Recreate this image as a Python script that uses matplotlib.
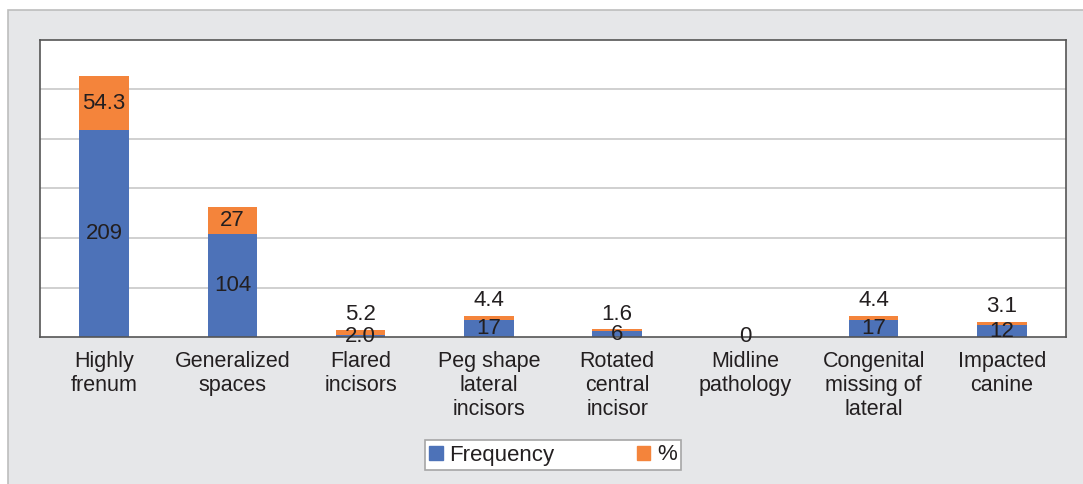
import matplotlib.pyplot as plt
from matplotlib.patches import Rectangle, Patch

plt.rcParams['font.family'] = ['Liberation Sans', 'DejaVu Sans']

categories = ['Highly\nfrenum', 'Generalized\nspaces', 'Flared\nincisors',
              'Peg shape\nlateral\nincisors', 'Rotated\ncentral\nincisor',
              'Midline\npathology', 'Congenital\nmissing of\nlateral',
              'Impacted\ncanine']
frequency = [209, 104, 2.0, 17, 6, 0, 17, 12]
percent = [54.3, 27, 5.2, 4.4, 1.6, 0, 4.4, 3.1]

blue = '#4d72b8'
orange = '#f4843b'
text_col = '#231f20'

fig = plt.figure(figsize=(10.83, 4.84), dpi=100)
fig.patch.set_facecolor('white')

# grey panel behind the chart
fig.patches.append(Rectangle((8 / 1083, -0.1), 1.2, 1 - 10 / 484 + 0.1,
                             transform=fig.transFigure, facecolor='#e6e7e9',
                             edgecolor='#bdbdbd', linewidth=1.2, zorder=-10))

ax = fig.add_axes([40 / 1083, 1 - 337 / 484, (1066 - 40) / 1083, 297 / 484])
ax.set_facecolor('white')

x = range(len(categories))
width = 0.385
ax.bar(x, frequency, width, color=blue, zorder=2)
ax.bar(x, percent, width, bottom=frequency, color=orange, zorder=2)

ax.set_xlim(-0.5, len(categories) - 0.5)
ax.set_ylim(0, 300)
ax.set_yticks(range(50, 300, 50))
ax.set_yticklabels([])
ax.tick_params(axis='y', length=0)
ax.grid(axis='y', color='#c8c8c8', linewidth=1.2, zorder=0)
ax.set_xticks(list(x))
ax.set_xticklabels(categories, fontsize=15.5, color=text_col, linespacing=1.18)
ax.tick_params(axis='x', length=0, pad=10)
for s in ax.spines.values():
    s.set_color('#555555')
    s.set_linewidth(1.2)

# value labels
fs = 16
for i, (f, p) in enumerate(zip(frequency, percent)):
    ax.text(i, f / 2, str(f), ha='center', va='center', fontsize=fs,
            color=text_col, zorder=3)
    if p > 0:
        if p > 15:
            ax.text(i, f + p / 2, str(p), ha='center', va='center',
                    fontsize=fs, color=text_col, zorder=3)
        else:
            ax.text(i, f + p + 5, str(p), ha='center', va='bottom',
                    fontsize=fs, color=text_col, zorder=3)

handles = [Patch(color=blue, label='Frequency'), Patch(color=orange, label='%')]
leg = fig.legend(handles=handles, loc='center', ncol=2,
                 bbox_to_anchor=(553 / 1083, 1 - 455 / 484), fontsize=16,
                 frameon=True, fancybox=False, edgecolor='#a6a6a6',
                 framealpha=1, facecolor='white',
                 handlelength=0.6, handleheight=0.6, handletextpad=0.3,
                 columnspacing=3.7, borderpad=0.2, borderaxespad=0)
leg.get_frame().set_linewidth(1.2)
for t in leg.get_texts():
    t.set_color(text_col)

fig.savefig('out.png', dpi=100)
